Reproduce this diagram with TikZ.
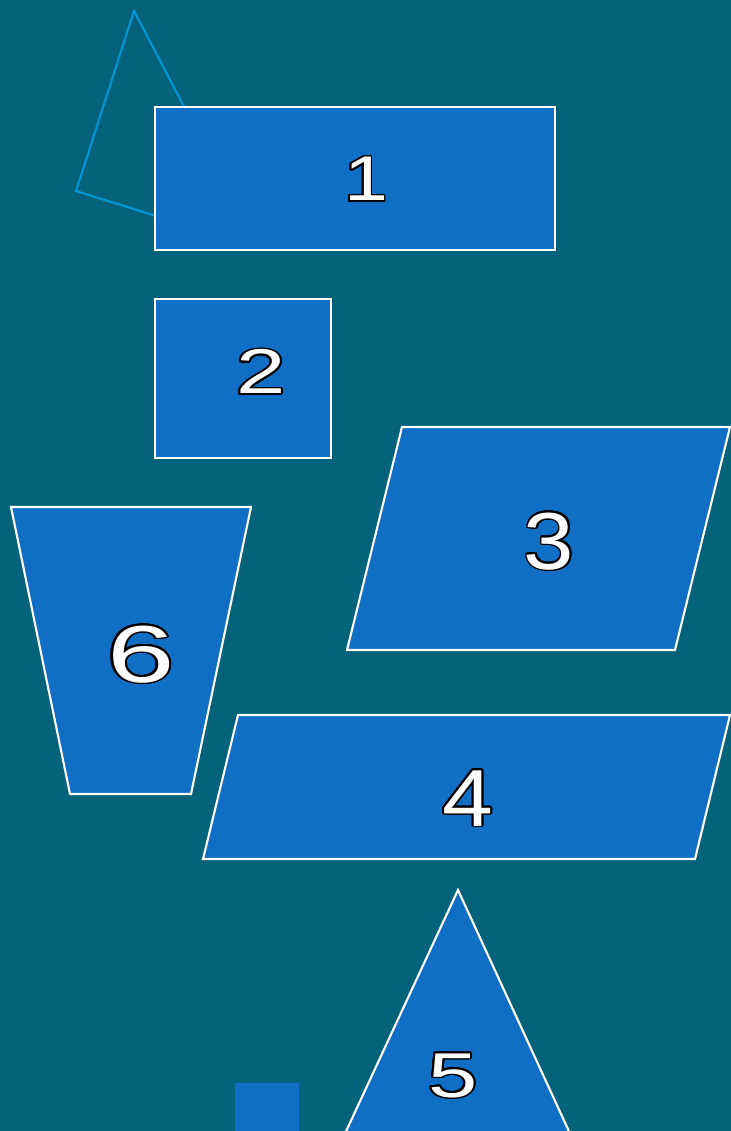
\documentclass[tikz,border=0pt]{standalone}
\usepackage{fontspec}
\setmainfont{Liberation Sans}
\usepackage{contour}
\contourlength{0.45pt}
\usepackage{tikz}
\definecolor{bgteal}{RGB}{4,98,122}
\definecolor{tileblue}{RGB}{16,111,196}
\definecolor{kiteblue}{RGB}{0,150,210}
\newcommand{\tilenum}[2]{\scalebox{#1}[1]{\contour{black}{#2}}}

\begin{document}
\begin{tikzpicture}[x=0.01cm,y=-0.01cm,
  tile/.style={fill=tileblue,draw=white,line width=0.6pt},
  numsmall/.style={text=white,anchor=base,inner sep=0pt,font=\fontsize{18}{21}\selectfont},
  numbig/.style={text=white,anchor=base,inner sep=0pt,font=\fontsize{23}{27}\selectfont}]
  \fill[bgteal] (0,0) rectangle (731,1131);
  \useasboundingbox (0,0) rectangle (731,1131);
  \clip (0,0) rectangle (731,1131);
  \draw[kiteblue,line width=0.6pt] (134,11)--(76,191)--(258,248)--cycle;
  \filldraw[tile] (155,107) rectangle (555,250);
  \filldraw[tile] (155,299) rectangle (331,458);
  \filldraw[tile] (402,427)--(730,427)--(675,650)--(347,650)--cycle;
  \filldraw[tile] (11,507)--(251,507)--(191,794)--(70,794)--cycle;
  \filldraw[tile] (238,715)--(730,715)--(695,859)--(203,859)--cycle;
  \filldraw[tile] (458,890)--(573,1140)--(342,1140)--cycle;
  \fill[tileblue] (235,1083) rectangle (299,1140);
  \node[numsmall] (n1) at (366,201) {\tilenum{1.25}{1}};
  \node[numsmall] (n2) at (261,394) {\tilenum{1.4}{2}};
  \node[numbig] (n3) at (549,569) {\tilenum{1.12}{3}};
  \node[numbig] (n4) at (468,826) {\tilenum{1.13}{4}};
  \node[numsmall] (n5) at (453,1097) {\tilenum{1.4}{5}};
  \node[numbig] (n6) at (141,682) {\tilenum{1.5}{6}};
\end{tikzpicture}
\end{document}
